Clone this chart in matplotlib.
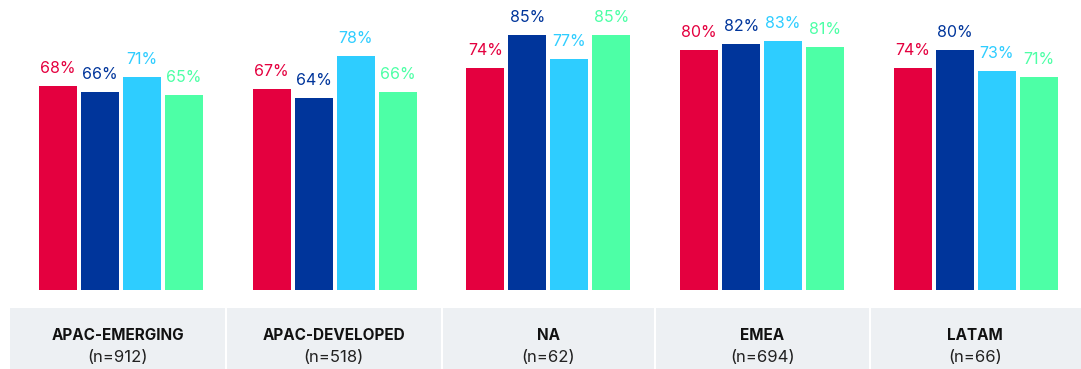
import matplotlib
matplotlib.use('Agg')
import matplotlib.pyplot as plt
import numpy as np

regions = ['APAC-EMERGING', 'APAC-DEVELOPED', 'NA', 'EMEA', 'LATAM']
sample_n = [912, 518, 62, 694, 66]
# four measures per region, in percent
values = [
    [68, 66, 71, 65],
    [67, 64, 78, 66],
    [74, 85, 77, 85],
    [80, 82, 83, 81],
    [74, 80, 73, 71],
]
colors = ['#E4003F', '#00359B', '#2ECDFF', '#4DFFA6']

plt.rcParams['font.family'] = ['Inter', 'DejaVu Sans']

W, H = 1081, 369
fig = plt.figure(figsize=(W / 100, H / 100), dpi=100)

xlim = (-0.566, 4.492)
ax = fig.add_axes([0, (H - 290) / H, 1, 290 / H])
ax.set_xlim(*xlim)
ax.set_ylim(0, 290 / 3)
ax.axis('off')

x = np.arange(len(regions))
step = 0.1965
width = 0.178
for k in range(4):
    vals = [v[k] for v in values]
    xs = x + (k - 1.5) * step
    ax.bar(xs, vals, width=width, color=colors[k], linewidth=0)
    for xi, v in zip(xs, vals):
        ax.text(xi, v + 3.2, f'{v}%', ha='center', va='bottom',
                color=colors[k], fontsize=11.5)

# grey label panels underneath
lab = fig.add_axes([0, 0, 1, 61 / H])
lab.set_xlim(*xlim)
lab.set_ylim(0, 61)
lab.axis('off')
gap = 2 / 213.7
edges = [-0.52, 0.49, 1.5, 2.5, 3.503, xlim[1] + 0.1]
for i, name in enumerate(regions):
    left = edges[i] + (gap / 2 if i else 0)
    right = edges[i + 1] - gap / 2
    lab.add_patch(plt.Rectangle((left, 0), right - left, 61,
                                color='#EDF0F3', linewidth=0))
    cx = (edges[i] + min(edges[i + 1], xlim[1])) / 2
    lab.text(cx, 34, name, ha='center', va='center', fontsize=11,
             fontweight='bold', color='#111111')
    lab.text(cx, 12, f'(n={sample_n[i]})', ha='center', va='center',
             fontsize=12, color='#222222')

fig.savefig('out.png', dpi=100)
